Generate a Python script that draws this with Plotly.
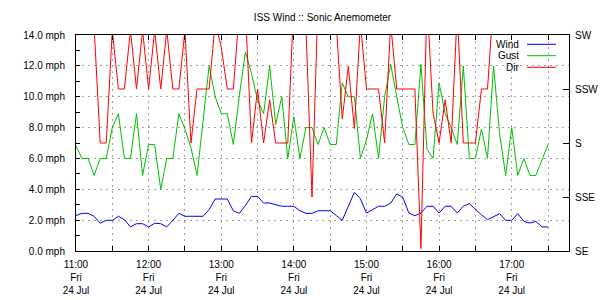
import plotly.graph_objects as go

# ---- data (5-minute samples, Fri 24 Jul) ----
times = [
    "11:00", "11:05", "11:10", "11:15", "11:20", "11:25", "11:30", "11:35", "11:40", "11:45", "11:50", "11:55",
    "12:00", "12:05", "12:10", "12:15", "12:20", "12:25", "12:30", "12:35", "12:40", "12:45", "12:50", "12:55",
    "13:00", "13:05", "13:10", "13:15", "13:20", "13:25", "13:30", "13:35", "13:40", "13:45", "13:50", "13:55",
    "14:00", "14:05", "14:10", "14:15", "14:20", "14:25", "14:30", "14:35", "14:40", "14:45", "14:50", "14:55",
    "15:00", "15:05", "15:10", "15:15", "15:20", "15:25", "15:30", "15:35", "15:40", "15:45", "15:50", "15:55",
    "16:00", "16:05", "16:10", "16:15", "16:20", "16:25", "16:30", "16:35", "16:40", "16:45", "16:50", "16:55",
    "17:00", "17:05", "17:10", "17:15", "17:20", "17:25", "17:30",
]
wind = [
    2.30, 2.44, 2.44, 2.25, 1.80, 1.99, 1.99, 2.25, 2.03, 1.56, 1.77, 1.77,
    1.56, 1.80, 1.77, 1.56, 1.99, 2.44, 2.25, 2.25, 2.25, 2.25, 2.68, 3.37,
    3.37, 3.37, 2.60, 2.44, 2.96, 3.54, 3.54, 3.11, 3.11, 3.00, 2.90, 2.90,
    2.90, 2.61, 2.44, 2.44, 2.61, 2.61, 2.61, 2.30, 1.99, 2.90, 3.80, 3.39,
    2.46, 2.68, 2.90, 2.90, 3.10, 3.70, 3.48, 2.46, 2.29, 2.46, 2.90, 2.90,
    2.46, 2.90, 2.90, 2.46, 2.90, 3.07, 2.68, 2.35, 2.03, 2.25, 2.42, 1.99,
    1.99, 2.42, 1.92, 1.81, 1.92, 1.56, 1.56,
]
gust = [
    6.8, 6.0, 6.0, 4.9, 6.0, 6.0, 8.0, 8.9, 6.0, 6.0, 8.9, 4.9,
    6.9, 6.9, 4.0, 6.0, 6.0, 8.9, 7.9, 6.7, 4.9, 8.3, 12.0, 10.0,
    8.9, 8.9, 6.9, 10.1, 12.9, 11.5, 9.8, 8.9, 12.0, 8.2, 10.0, 6.0,
    8.7, 6.0, 8.0, 8.0, 6.9, 8.0, 6.9, 6.9, 10.9, 10.0, 10.0, 6.0,
    7.2, 8.9, 6.0, 10.0, 12.1, 10.0, 8.0, 6.9, 6.9, 12.1, 6.6, 6.0,
    10.9, 8.9, 8.0, 6.9, 12.0, 6.0, 6.0, 7.9, 6.0, 12.0, 7.6, 4.9,
    8.0, 4.9, 6.0, 4.9, 4.9, 5.9, 6.9,
]
direction = [
    240, 240, 240, 228, 180, 180, 227, 202.5, 202.5, 227, 202.5, 227,
    202.5, 227, 202.5, 227, 202.5, 202.5, 227, 180, 202.5, 202.5, 202.5, 230,
    220, 202.5, 202.5, 235, 235, 180, 202.5, 180, 198, 180, 180, 180,
    240, 240, 228, 157.5, 240, 240, 240, 230, 190, 212, 186, 230,
    202.5, 202.5, 202.5, 180, 230, 202.5, 202.5, 202.5, 202.5, 136, 240, 192.5,
    180, 198, 180, 235, 180, 180, 180, 202.5, 202.5, 240, 240, 240,
    240, 240, 240, 240, 240, 240, 240,
]
day = "2020-07-24"
hour_ticks = ["11:00", "12:00", "13:00", "14:00", "15:00", "16:00", "17:00"]
speed_ticks = [0, 2, 4, 6, 8, 10, 12, 14]
compass_vals = [135, 157.5, 180, 202.5, 225]
compass_text = ["SE", "SSE", "S", "SSW", "SW"]
series_names = ["Wind", "Gust", "Dir"]
series_colors = ["#0000ff", "#00c000", "#ff0000"]

x = [f"{day} {t}" for t in times]

FONT = "Liberation Sans, Arial, sans-serif"
GRID = "#a0a0a0"

fig = go.Figure()
fig.add_trace(go.Scatter(x=x, y=wind, name="Wind", mode="lines",
                         line=dict(color=series_colors[0], width=1)))
fig.add_trace(go.Scatter(x=x, y=gust, name="Gust", mode="lines",
                         line=dict(color=series_colors[1], width=1)))
fig.add_trace(go.Scatter(x=x, y=direction, name="Dir", mode="lines", yaxis="y2",
                         line=dict(color=series_colors[2], width=1)))

L, R, T, B = 76, 41, 35, 49
W, H = 610, 300
pw, ph = W - L - R, H - T - B

fig.update_layout(
    width=W, height=H,
    margin=dict(l=L, r=R, t=T, b=B, pad=0, autoexpand=False),
    paper_bgcolor="white", plot_bgcolor="white",
    font=dict(family=FONT, size=10, color="black"),
    showlegend=False,
    title=dict(text="ISS Wind :: Sonic Anemometer", x=0.5, xref="paper",
               y=1 - 17 / H, yref="container", yanchor="middle", xanchor="center",
               font=dict(family=FONT, size=10, color="black")),
    xaxis=dict(
        type="date", automargin=False,
        range=[f"{day} 11:00", f"{day} 17:47:20"],
        tickmode="array",
        tickvals=[f"{day} {t}" for t in hour_ticks],
        ticktext=[f"{t}<br>Fri<br>24 Jul" for t in hour_ticks],
        ticks="inside", ticklen=5, tickcolor="black", tickwidth=1,
        showline=True, linecolor="black", linewidth=1, mirror="ticks",
        showgrid=True, gridcolor=GRID, gridwidth=1, griddash="2px,4px",
        minor=dict(dtick=30 * 60 * 1000, tick0=f"{day} 11:00", ticks="inside", ticklen=5,
                   tickcolor="black", showgrid=True, gridcolor=GRID, griddash="2px,4px"),
        zeroline=False,
        ticklabelstandoff=4,
    ),
    yaxis=dict(
        range=[0, 14], automargin=False,
        tickmode="array",
        tickvals=speed_ticks,
        ticktext=[f"{v:.1f} mph" for v in speed_ticks],
        ticks="inside", ticklen=4, tickcolor="black",
        showline=True, linecolor="black", linewidth=1, mirror=True,
        showgrid=True, gridcolor=GRID, gridwidth=1, griddash="2px,4px",
        minor=dict(dtick=1, tick0=0, ticks="inside", ticklen=4, tickcolor="black", showgrid=False),
        zeroline=False,
        ticklabelstandoff=8,
    ),
    yaxis2=dict(
        overlaying="y", side="right", automargin=False,
        range=[135, 225],
        tickmode="array", tickvals=compass_vals, ticktext=compass_text,
        ticks="inside", ticklen=6, tickcolor="black",
        showline=False, showgrid=False, zeroline=False,
        ticklabelstandoff=5,
    ),
)

# gnuplot-style key: label text left of the line sample
rows_py = [44.3, 55.7, 67.3]
for name, color, py in zip(series_names, series_colors, rows_py):
    yp = (H - B - py) / ph
    fig.add_annotation(x=(521 - L) / pw, y=yp, xref="paper", yref="paper",
                       text=name, showarrow=False, xanchor="right", yanchor="middle",
                       font=dict(family=FONT, size=10, color="black"))
    fig.add_shape(type="line", xref="paper", yref="paper",
                  x0=(527 - L) / pw, x1=(556 - L) / pw, y0=yp, y1=yp,
                  line=dict(color=color, width=1))

fig.write_html("out.html")
